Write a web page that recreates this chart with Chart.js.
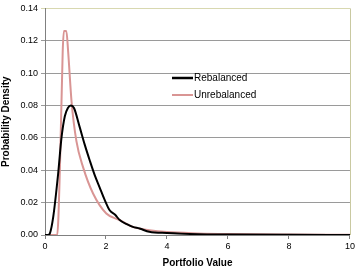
<!DOCTYPE html>
<html>
<head>
<meta charset="utf-8">
<script src="https://cdn.jsdelivr.net/npm/chart.js@4"></script>
<style>
  html, body { margin: 0; padding: 0; background: #fff; }
  #wrap { width: 357px; height: 269px; }
</style>
</head>
<body>
<div id="wrap"><canvas id="densityChart" width="357" height="269"></canvas></div>
<script>
// valores
const rebalancedX = [0, 0.1, 0.16, 0.27, 0.43, 0.54, 0.65, 0.75, 0.85, 0.95, 1.14, 1.3, 1.47, 1.63, 1.79, 1.95, 2.12, 2.3, 2.45, 2.7, 2.88, 3.1, 3.42, 4, 5, 6, 8, 10];
const rebalancedY = [0, 0, 0.001, 0.0112, 0.0377, 0.060, 0.0734, 0.0785, 0.080, 0.0785, 0.0665, 0.056, 0.0459, 0.037, 0.0295, 0.022, 0.0153, 0.0125, 0.0092, 0.0065, 0.005, 0.004, 0.002, 0.0012, 0.0005, 0.0003, 0.0001, 0];

const unrebalancedX = [0, 0.4, 0.49, 0.58, 0.62, 0.7, 0.76, 0.87, 1.03, 1.25, 1.58, 2.01, 2.45, 2.88, 3.42, 4, 5, 6, 8, 10];
const unrebalancedY = [0, 0, 0.0418, 0.113, 0.126, 0.126, 0.113, 0.0826, 0.058, 0.0418, 0.0255, 0.0133, 0.0092, 0.005, 0.003, 0.0018, 0.001, 0.0006, 0.0003, 0.0002];

const xTicks = [0, 2, 4, 6, 8, 10];
const yTicks = [0, 0.02, 0.04, 0.06, 0.08, 0.10, 0.12, 0.14];

const seriesNames = ['Rebalanced', 'Unrebalanced'];
const seriesColors = ['#000000', '#d99594'];

function toPoints(xs, ys) {
    return xs.map((x, i) => ({ x: x, y: ys[i] }));
}

// leyenda dibujada dentro del área del gráfico, sin recuadro
const insideLegend = {
    id: 'insideLegend',
    afterDraw(chart) {
        const c = chart.ctx;
        c.save();
        c.font = '10px "Liberation Sans", Arial, sans-serif';
        c.textBaseline = 'middle';
        seriesNames.forEach((name, i) => {
            const y = 78 + i * 17;
            c.strokeStyle = seriesColors[i];
            c.lineWidth = i === 0 ? 2.5 : 2;
            c.beginPath();
            c.moveTo(172, y);
            c.lineTo(193, y);
            c.stroke();
            c.fillStyle = '#000';
            c.fillText(name, 194, y);
        });
        // borde derecho
        const a = chart.chartArea;
        c.strokeStyle = '#c9c9a0';
        c.lineWidth = 1;
        c.beginPath();
        c.moveTo(a.right + 0.5, a.top);
        c.lineTo(a.right + 0.5, a.bottom);
        c.stroke();
        c.restore();
    }
};

const tickFont = { family: '"Liberation Sans", Arial, sans-serif', size: 9 };
const titleFont = { family: '"Liberation Sans", Arial, sans-serif', size: 10, weight: 'bold' };

new Chart(document.getElementById('densityChart'), {
    type: 'line',
    data: {
        datasets: [
            {
                label: seriesNames[0],
                data: toPoints(rebalancedX, rebalancedY),
                borderColor: seriesColors[0],
                borderWidth: 2,
                pointRadius: 0,
                cubicInterpolationMode: 'monotone',
                fill: false
            },
            {
                label: seriesNames[1],
                data: toPoints(unrebalancedX, unrebalancedY),
                borderColor: seriesColors[1],
                borderWidth: 2,
                pointRadius: 0,
                cubicInterpolationMode: 'monotone',
                fill: false
            }
        ]
    },
    options: {
        responsive: false,
        animation: false,
        devicePixelRatio: 1,
        layout: { padding: { top: 6, right: 5, left: 0, bottom: 0 } },
        plugins: {
            legend: { display: false },
            tooltip: { enabled: false }
        },
        scales: {
            x: {
                type: 'linear',
                min: 0,
                max: 10,
                afterBuildTicks: (s) => { s.ticks = xTicks.map(v => ({ value: v })); },
                afterFit: (s) => { s.height = 34; },
                ticks: { font: tickFont, color: '#000', padding: 2, maxRotation: 0 },
                grid: { display: true, drawOnChartArea: false, tickLength: 4, color: '#808080' },
                border: { color: '#808080' },
                title: { display: true, text: 'Portfolio Value', font: titleFont, color: '#000', padding: { top: 4, bottom: 0 } }
            },
            y: {
                min: 0,
                max: 0.14,
                afterBuildTicks: (s) => { s.ticks = yTicks.map(v => ({ value: v })); },
                afterFit: (s) => { s.width = 45; },
                ticks: {
                    font: tickFont,
                    color: '#000',
                    padding: 3,
                    callback: (v) => v.toFixed(2)
                },
                grid: {
                    color: (ctx) => ctx.tick && ctx.tick.value >= 0.14 ? '#d8d8b0' : '#9a9a9a',
                    tickLength: 4,
                    lineWidth: 1
                },
                border: { color: '#808080' },
                title: { display: true, text: 'Probability Density', font: titleFont, color: '#000', padding: { top: 0, bottom: 2 } }
            }
        }
    },
    plugins: [insideLegend]
});
</script>
</body>
</html>
